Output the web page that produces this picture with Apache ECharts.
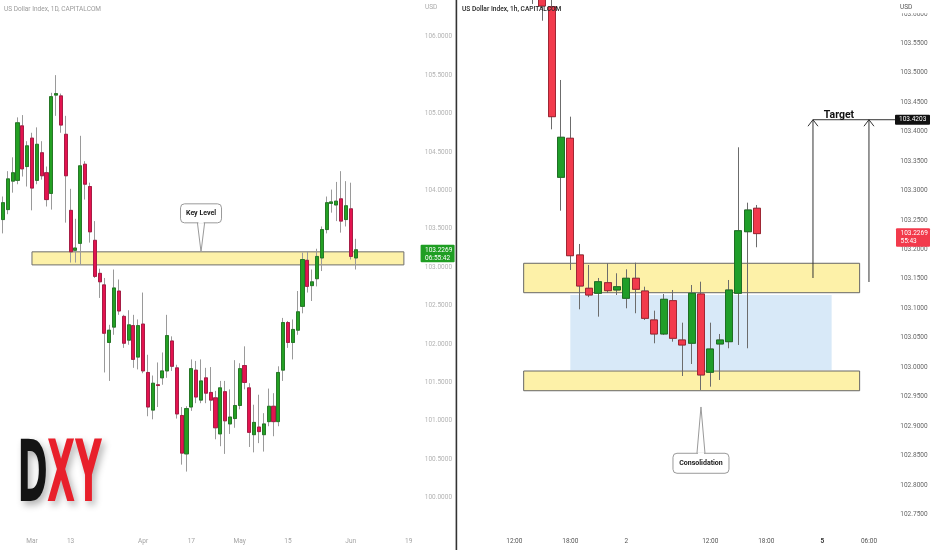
<!DOCTYPE html>
<html><head><meta charset="utf-8">
<script src="https://cdn.jsdelivr.net/npm/echarts@6/dist/echarts.min.js"></script>
<style>html,body{margin:0;padding:0;background:#fff}#c{width:932px;height:550px}</style>
</head><body><div id="c"></div>
<script>
// ---------- Daily panel (left) ----------
const dailyDates = [
 '2023-02-21','2023-02-22','2023-02-23','2023-02-24','2023-02-27','2023-02-28',
 '2023-03-01','2023-03-02','2023-03-03','2023-03-06','2023-03-07','2023-03-08','2023-03-09','2023-03-10',
 '2023-03-13','2023-03-14','2023-03-15','2023-03-16','2023-03-17','2023-03-20','2023-03-21','2023-03-22',
 '2023-03-23','2023-03-24','2023-03-27','2023-03-28','2023-03-29','2023-03-30','2023-03-31',
 '2023-04-03','2023-04-04','2023-04-05','2023-04-06','2023-04-07','2023-04-10','2023-04-11','2023-04-12',
 '2023-04-13','2023-04-14','2023-04-17','2023-04-18','2023-04-19','2023-04-20','2023-04-21','2023-04-24',
 '2023-04-25','2023-04-26','2023-04-27','2023-04-28',
 '2023-05-01','2023-05-02','2023-05-03','2023-05-04','2023-05-05','2023-05-08','2023-05-09','2023-05-10',
 '2023-05-11','2023-05-12','2023-05-15','2023-05-16','2023-05-17','2023-05-18','2023-05-19','2023-05-22',
 '2023-05-23','2023-05-24','2023-05-25','2023-05-26','2023-05-29','2023-05-30','2023-05-31',
 '2023-06-01','2023-06-02','2023-06-05','2023-06-06','2023-06-07','2023-06-08','2023-06-09','2023-06-12',
 '2023-06-13','2023-06-14','2023-06-15','2023-06-16','2023-06-19','2023-06-20','2023-06-21'
];
const dailyTickLabels = {'2023-03-01':'Mar','2023-03-13':'13','2023-04-03':'Apr','2023-04-17':'17',
 '2023-05-01':'May','2023-05-15':'15','2023-06-01':'Jun','2023-06-19':'19'};
const dailyOpen = [
 103.62,103.75,104.12,104.13,104.84,104.31,104.68,104.13,104.49,104.23,
 103.96,105.24,105.23,104.73,103.74,103.22,103.31,104.34,104.05,103.35,
 102.92,102.77,102.02,102.22,102.69,102.36,102.05,102.24,101.83,102.26,
 101.63,101.14,101.47,101.56,101.65,102.04,101.69,101.07,100.57,101.18,
 101.66,101.27,101.56,101.37,101.30,100.83,101.38,100.96,101.03,101.20,
 101.72,101.43,100.82,100.92,100.82,100.99,101.19,100.99,101.66,102.28,
 102.02,102.18,102.49,103.09,102.76,102.85,103.12,103.49,103.83,103.81,
 103.89,103.62,103.76,103.12];
const dailyClose = [
 103.84,104.15,104.23,104.88,104.28,104.58,104.03,104.60,104.19,103.88,
 105.22,105.26,104.85,104.19,103.20,103.25,104.32,104.08,103.46,102.88,
 102.81,102.14,102.18,102.73,102.43,102.01,102.25,101.80,102.24,101.65,
 101.18,101.49,101.46,101.65,102.11,101.71,101.09,100.58,101.16,101.68,
 101.31,101.52,101.36,101.27,100.91,101.43,101.00,101.05,101.20,101.68,
 101.50,100.85,100.98,100.86,100.96,101.19,100.99,101.63,102.28,102.02,
 102.19,102.42,103.10,102.75,102.81,103.14,103.49,103.84,103.85,103.86,
 103.60,103.80,103.14,103.2269];
const dailyLow = [
 103.44,103.69,103.97,104.08,104.18,104.05,103.74,104.08,104.14,103.79,
 103.75,104.97,104.75,103.58,103.06,103.06,103.03,103.88,103.32,102.86,
 102.60,101.63,101.52,102.12,102.38,101.95,101.99,101.69,101.67,101.62,
 101.06,101.02,101.18,101.47,101.56,101.65,101.03,100.43,100.34,101.13,
 101.23,101.23,101.23,101.13,100.76,100.67,100.57,100.83,100.91,101.15,
 101.41,100.66,100.59,100.71,100.60,100.93,100.80,100.93,101.52,101.95,
 101.80,102.12,102.40,102.67,102.56,102.75,102.95,103.44,103.71,103.60,
 103.45,103.53,103.10,102.97];
const dailyHigh = [
 103.92,104.25,104.43,104.95,104.98,104.64,104.75,104.82,104.64,104.31,
 105.27,105.50,105.26,104.97,104.02,103.63,104.71,104.38,104.10,103.60,
 102.98,102.86,102.25,102.97,102.84,102.38,102.44,102.38,102.32,102.67,
 101.86,101.59,101.76,101.89,102.38,102.10,101.73,101.18,101.19,101.80,
 101.78,101.80,101.69,101.70,101.39,101.52,101.52,101.41,101.79,101.75,
 101.97,101.49,101.21,101.34,101.10,101.42,101.36,101.71,102.34,102.30,
 102.32,102.69,103.19,103.21,102.97,103.24,103.53,103.92,104.01,104.11,
 104.25,104.12,104.10,103.37];
const keyLevel = {from:'2023-03-01', to:'2023-06-16', top:103.20, bottom:103.03, pointerAt:41};

// ---------- Hourly panel (right) ----------
const hourlySlots = [
 '2023-06-01 07:00','2023-06-01 08:00','2023-06-01 09:00','2023-06-01 10:00','2023-06-01 11:00',
 '2023-06-01 12:00','2023-06-01 13:00','2023-06-01 14:00','2023-06-01 15:00','2023-06-01 16:00',
 '2023-06-01 17:00','2023-06-01 18:00','2023-06-01 19:00','2023-06-01 20:00','2023-06-01 21:00',
 '2023-06-01 22:00','2023-06-01 23:00','2023-06-02 00:00','2023-06-02 04:00','2023-06-02 05:00',
 '2023-06-02 06:00','2023-06-02 07:00','2023-06-02 08:00','2023-06-02 09:00','2023-06-02 10:00',
 '2023-06-02 11:00','2023-06-02 12:00','2023-06-02 13:00','2023-06-02 14:00','2023-06-02 15:00',
 '2023-06-02 16:00','2023-06-02 17:00','2023-06-02 18:00','2023-06-02 19:00','2023-06-02 20:00',
 '2023-06-02 21:00','2023-06-02 22:00','2023-06-02 23:00','2023-06-05 00:00','2023-06-05 02:00',
 '2023-06-05 03:00','2023-06-05 04:00','2023-06-05 05:00','2023-06-05 06:00','2023-06-05 07:00',
 '2023-06-05 08:00'];
const hourlyTickLabels = {'2023-06-01 12:00':'12:00','2023-06-01 18:00':'18:00','2023-06-02 00:00':'2',
 '2023-06-02 12:00':'12:00','2023-06-02 18:00':'18:00','2023-06-05 00:00':'5','2023-06-05 06:00':'06:00'};
const hourlyTimes = hourlySlots.slice(7, 32);
const hourlyOpen  = [103.72,103.66,103.6123,103.3225,103.3888,103.1906,103.134,103.1255,103.1435,103.1311,
 103.117,103.151,103.1294,103.0802,103.0564,103.113,103.0462,103.0406,103.1243,102.9913,
 103.0394,103.0433,103.1255,103.2301,103.2699];
const hourlyClose = [103.68,103.6135,103.4255,103.3905,103.1894,103.1379,103.1226,103.1452,103.13,103.1367,
 103.151,103.1323,103.083,103.0564,103.1153,103.0491,103.0377,103.1255,102.9868,103.0309,
 103.0462,103.1311,103.2318,103.267,103.2269];
const hourlyLow   = [103.617,103.5885,103.404,103.2658,103.1651,103.0983,103.119,103.0858,103.126,103.1226,
 103.100,103.0916,103.0802,103.0406,103.0547,103.0433,102.985,103.0054,102.9613,102.9669,
 102.9783,103.0321,103.0377,103.0321,103.2037];
const hourlyHigh  = [103.74,103.68,103.64,103.4878,103.4255,103.2093,103.1736,103.1515,103.1765,103.1595,
 103.1663,103.1775,103.1367,103.096,103.1243,103.1311,103.0756,103.1396,103.1452,103.0756,
 103.0564,103.1481,103.3735,103.2794,103.2755];
const upperZone = {from:'2023-06-01 13:00', to:'2023-06-05 05:00', top:103.1765, bottom:103.1265};
const lowerZone = {from:'2023-06-01 13:00', to:'2023-06-05 05:00', top:102.9935, bottom:102.96};
const rangeBox  = {from:'2023-06-01 18:00', to:'2023-06-05 02:00', top:103.1226, bottom:102.995};
const targetPrice = 103.4203;
const targetArrows = [[37, 103.1515], [43, 103.1447]];
const consolidationAt = [25, 102.9324];
const lastPrice = 103.2269;

const FONT = 'Roboto';
const chart = echarts.init(document.getElementById('c'));

function ohlc(t, o, c, l, h){ return t.map((d,i)=>[d, o[i], c[i], l[i], h[i]]); }
function bodies(t, o, c){ return t.map((d,i)=>[d, o[i], c[i], Math.min(o[i],c[i]), Math.max(o[i],c[i])]); }
const dT = dailyDates.slice(0, dailyOpen.length);

chart.setOption({
  animation:false,
  backgroundColor:'#fff',
  grid:[
    {left:0.585, top:-1.7, width:420.2, height:537.8, containLabel:false, outerBoundsMode:'none'},
    {left:463, top:-15.5, width:429.3, height:559.3, containLabel:false, outerBoundsMode:'none'}
  ],
  xAxis:[
    {type:'category', gridIndex:0, data:dailyDates, boundaryGap:true,
     axisLine:{show:false}, axisTick:{show:false}, splitLine:{show:false},
     axisLabel:{interval:0, margin:1.5, color:'#a3a3a3', fontSize:6.5, fontFamily:FONT,
       formatter:v=>dailyTickLabels[v]||''}},
    {type:'category', gridIndex:1, data:hourlySlots, boundaryGap:true, offset:-12,
     axisLine:{show:false}, axisTick:{show:false}, splitLine:{show:false},
     axisLabel:{interval:0, margin:6, color:'#555', fontSize:6.5, fontFamily:FONT,
       formatter:v=>{const s=hourlyTickLabels[v]||''; return s==='5'?'{b|5}':s;},
       rich:{b:{fontWeight:'bold', color:'#333', fontSize:6.5, fontFamily:FONT}}}}
  ],
  yAxis:[
    {type:'value', gridIndex:0, position:'right', min:99.5, max:106.5, interval:0.5, scale:true,
     axisLine:{show:false}, axisTick:{show:false}, splitLine:{show:false},
     axisLabel:{margin:4, color:'#b3b3b3', fontSize:6.5, fontFamily:FONT, showMinLabel:false, showMaxLabel:false,
       formatter:v=>v.toFixed(4)}},
    {type:'value', gridIndex:1, position:'right', min:102.7, max:103.65, interval:0.05, scale:true,
     axisLine:{show:false}, axisTick:{show:false}, splitLine:{show:false},
     axisLabel:{margin:8, color:'#666', fontSize:6.5, fontFamily:FONT, showMinLabel:false, showMaxLabel:false,
       formatter:v=>v.toFixed(4)}}
  ],
  series:[
    {type:'line', xAxisIndex:0, yAxisIndex:0, data:[], z:1, silent:true,
     markArea:{silent:true, label:{show:false},
       data:[[{xAxis:keyLevel.from, yAxis:keyLevel.top, itemStyle:{color:'#fdf1a8', borderColor:'#6e6e6e', borderWidth:1}},
              {xAxis:keyLevel.to, yAxis:keyLevel.bottom}]]}},
    {type:'candlestick', xAxisIndex:0, yAxisIndex:0, z:3, barWidth:3.6, silent:true,
     encode:{x:0, y:[1,2,3,4]}, data:ohlc(dT, dailyOpen, dailyClose, dailyLow, dailyHigh),
     itemStyle:{color:'transparent', color0:'transparent', borderColor:'#9a9a9a', borderColor0:'#9a9a9a', borderWidth:1}},
    {type:'candlestick', xAxisIndex:0, yAxisIndex:0, z:4, barWidth:3.6, silent:true,
     encode:{x:0, y:[1,2,3,4]}, data:bodies(dT, dailyOpen, dailyClose),
     itemStyle:{color:'#23a023', color0:'#e3134f', borderColor:'#186e19', borderColor0:'#a10f39', borderWidth:0.8}},

    {type:'line', xAxisIndex:1, yAxisIndex:1, data:[], z:1, silent:true,
     markArea:{silent:true, label:{show:false},
       data:[
         [{xAxis:rangeBox.from, yAxis:rangeBox.top, itemStyle:{color:'#d8e9f8', borderWidth:0}},
          {xAxis:rangeBox.to, yAxis:rangeBox.bottom}],
         [{xAxis:upperZone.from, yAxis:upperZone.top, itemStyle:{color:'#fdf1a8', borderColor:'#666', borderWidth:1}},
          {xAxis:upperZone.to, yAxis:upperZone.bottom}],
         [{xAxis:lowerZone.from, yAxis:lowerZone.top, itemStyle:{color:'#fdf1a8', borderColor:'#666', borderWidth:1}},
          {xAxis:lowerZone.to, yAxis:lowerZone.bottom}]
       ]}},
    {type:'candlestick', xAxisIndex:1, yAxisIndex:1, z:3, barWidth:7.3, silent:true,
     encode:{x:0, y:[1,2,3,4]}, data:ohlc(hourlyTimes, hourlyOpen, hourlyClose, hourlyLow, hourlyHigh),
     itemStyle:{color:'transparent', color0:'transparent', borderColor:'#6c6c6c', borderColor0:'#6c6c6c', borderWidth:1}},
    {type:'candlestick', xAxisIndex:1, yAxisIndex:1, z:4, barWidth:7.3, silent:true,
     encode:{x:0, y:[1,2,3,4]}, data:bodies(hourlyTimes, hourlyOpen, hourlyClose),
     itemStyle:{color:'#1f9e29', color0:'#f23a4c', borderColor:'#156a1b', borderColor0:'#9a1c2a', borderWidth:0.8}}
  ]
});

const L = (i,v)=>chart.convertToPixel({xAxisIndex:0, yAxisIndex:0}, [i,v]);
const R = (i,v)=>chart.convertToPixel({xAxisIndex:1, yAxisIndex:1}, [i,v]);
function txt(x,y,text,font,fill,align,z){
  return {type:'text', x:x, y:y, z:z||60, silent:true,
    style:{text:text, font:font, fill:fill, align:align||'left', textAlign:align||'left',
      verticalAlign:'middle', textVerticalAlign:'middle'}};
}
const g = [];
// separator between panels
g.push({type:'rect', z:70, silent:true, shape:{x:455.6, y:0, width:1.6, height:550}, style:{fill:'#333'}});
// titles
g.push(txt(4, 9, 'US Dollar Index, 1D, CAPITALCOM', '6.5px '+FONT, '#9a9a9a'));
g.push(txt(462, 9, 'US Dollar Index, 1h, CAPITALCOM', '500 6.6px '+FONT, '#262626'));
// USD headers
g.push({type:'rect', z:58, silent:true, shape:{x:421, y:0, width:34, height:12}, style:{fill:'#fff'}});
g.push(txt(425, 7.5, 'USD', '6.5px '+FONT, '#aaa'));
g.push({type:'rect', z:58, silent:true, shape:{x:895, y:0, width:37, height:13.2}, style:{fill:'#fff'}});
g.push(txt(900, 7.5, 'USD', '6.5px '+FONT, '#555'));

// left last price tag
const lp = L(73, lastPrice);
g.push({type:'rect', z:60, silent:true, shape:{x:420.6, y:lp[1]-5, width:34, height:17.6, r:1}, style:{fill:'#1f9e23'}});
g.push(txt(425, lp[1]+0.3, lastPrice.toFixed(4), '6.5px '+FONT, '#fff', 'left', 61));
g.push(txt(425, lp[1]+8.4, '06:55:42', '6.5px '+FONT, '#fff', 'left', 61));
// right last price tag
const rp = R(31, lastPrice);
g.push({type:'rect', z:60, silent:true, shape:{x:896, y:rp[1]-5.3, width:34, height:18.4, r:1}, style:{fill:'#f23a4c'}});
g.push(txt(900.5, rp[1]+0.2, lastPrice.toFixed(4), '6.5px '+FONT, '#fff', 'left', 61));
g.push(txt(900.5, rp[1]+7.3, '55:43', '6.5px '+FONT, '#fff', 'left', 61));
// target price tag
const tp = R(37, targetPrice);
g.push({type:'rect', z:60, silent:true, shape:{x:895, y:tp[1]-5, width:35, height:10, r:1}, style:{fill:'#111'}});
g.push(txt(899, tp[1], targetPrice.toFixed(4), '6.5px '+FONT, '#fff', 'left', 61));
// target line and arrows
g.push({type:'line', z:55, silent:true, shape:{x1:tp[0], y1:tp[1], x2:895, y2:tp[1]}, style:{stroke:'#333', lineWidth:1}});
targetArrows.forEach(([i,v])=>{
  const a = R(i, v), b = R(i, targetPrice);
  g.push({type:'line', z:55, silent:true, shape:{x1:a[0], y1:a[1], x2:b[0], y2:b[1]}, style:{stroke:'#333', lineWidth:1}});
  g.push({type:'polyline', z:55, silent:true, shape:{points:[[b[0]-5, b[1]+6.5],[b[0], b[1]],[b[0]+5, b[1]+6.5]]},
    style:{stroke:'#333', lineWidth:1, fill:null}});
});
const tm = R((targetArrows[0][0]+targetArrows[1][0])/2, targetPrice);
g.push(txt(tm[0]-2, tm[1]-4.6, 'Target', 'bold 10.5px '+FONT, '#111', 'center'));

// callouts
function callout(tip, boxX, boxY, w, h, baseY, half, text){
  g.push({type:'rect', z:56, silent:true, shape:{x:boxX, y:boxY, width:w, height:h, r:4},
    style:{fill:'#fff', stroke:'#9a9a9a', lineWidth:1}});
  g.push({type:'polygon', z:57, silent:true, shape:{points:[[tip[0]-half, baseY],[tip[0], tip[1]],[tip[0]+half, baseY]]},
    style:{fill:'#fff', stroke:'#9a9a9a', lineWidth:1}});
  g.push({type:'line', z:58, silent:true, shape:{x1:tip[0]-half+0.9, y1:baseY, x2:tip[0]+half-0.9, y2:baseY},
    style:{stroke:'#fff', lineWidth:1.6}});
  g.push(txt(boxX+w/2, boxY+h/2, text, 'bold 7px '+FONT, '#1a1a1a', 'center', 59));
}
const kt = L(keyLevel.pointerAt, keyLevel.top);
callout(kt, kt[0]-20.5, kt[1]-48, 41, 19, kt[1]-29, 3.6, 'Key Level');
const ct = R(consolidationAt[0], consolidationAt[1]);
callout(ct, ct[0]-28, ct[1]+46.3, 56, 20, ct[1]+46.3, 4, 'Consolidation');

// DXY logo
const shadow = {textShadowColor:'rgba(0,0,0,0.3)', textShadowBlur:7, textShadowOffsetX:3, textShadowOffsetY:4};
g.push({type:'text', z:50, silent:true, x:17.4, y:479, scaleX:0.43,
  style:Object.assign({text:'D', font:'bold 85px "DejaVu Sans"', fill:'#141414', align:'left', textAlign:'left',
    verticalAlign:'middle', textVerticalAlign:'middle'}, shadow)});
g.push({type:'text', z:50, silent:true, x:47, y:479, scaleX:0.43,
  style:Object.assign({text:'XY', font:'bold 85px "DejaVu Sans"', fill:'#e8202b', align:'left', textAlign:'left',
    verticalAlign:'middle', textVerticalAlign:'middle'}, shadow)});

chart.setOption({graphic:{elements:g}});
</script></body></html>
